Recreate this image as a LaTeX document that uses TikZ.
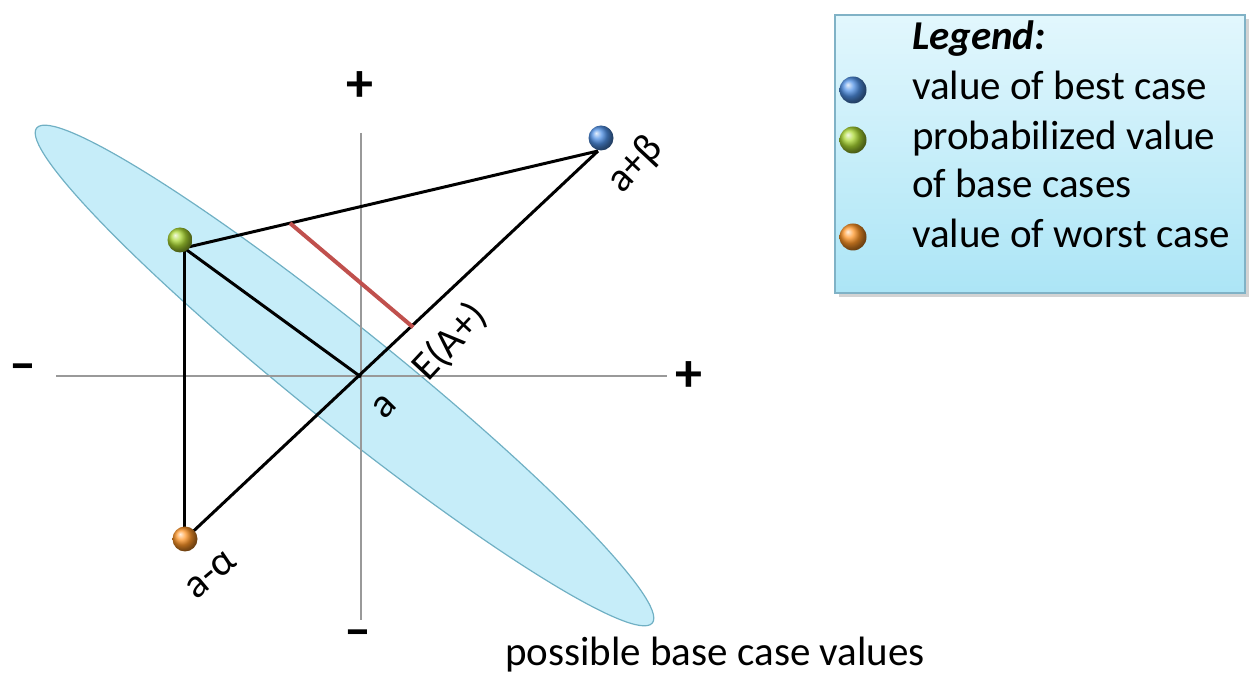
\documentclass[tikz,border=0pt]{standalone}
\usepackage{fontspec}
\setmainfont{Carlito}
\usetikzlibrary{calc, shapes, shadows}
\definecolor{ellfill}{RGB}{198,237,249}
\definecolor{ellline}{RGB}{112,176,196}
\definecolor{legtop}{RGB}{226,247,253}
\definecolor{legbot}{RGB}{172,229,246}
\definecolor{legline}{RGB}{128,178,198}
\definecolor{redline}{RGB}{192,80,77}
\definecolor{bestblue}{RGB}{80,145,230}
\definecolor{basegreen}{RGB}{170,215,50}
\definecolor{worstorange}{RGB}{255,150,40}

\begin{document}
\begin{tikzpicture}[x=0.5pt, y=0.5pt,
    axis/.style={draw=gray!80, line width=1pt},
    edge/.style={draw=black, line width=1.5pt},
    dot/.style={circle, inner sep=0pt, minimum size=12.5pt, shading=ball, ball color=#1},
    legdot/.style={dot=#1, minimum size=13.5pt},
    lbl/.style={font=\fontsize{20.5}{24}\selectfont},
    sign/.style={font=\bfseries\fontsize{27}{30}\selectfont}]
          \useasboundingbox (0,0) rectangle (1254,674);
          % cloud of possible base case values
          \fill[ellfill, draw=ellline, line width=0.6pt, rotate around={-38.8:(344.5,298.5)}]
            (344.5,298.5) ellipse [x radius=395, y radius=48];
          % axes
          \coordinate (xl) at (56,298);
          \coordinate (xr) at (667,298);
          \coordinate (yt) at (361,541);
          \coordinate (yb) at (361,54);
          \draw[axis] (xl) -- (xr);
          \draw[axis] (yt) -- (yb);
          \node[sign] (xminus) at (23,301) {\textendash};
          \node[sign] (xplus) at (689,297) {+};
          \node[sign] (yplus) at (360,587) {+};
          \node[sign] (yminus) at (358,35) {\textendash};
          % corners of the triangle
          \coordinate (O) at (361,297);
          \coordinate (G) at (184,426);
          \coordinate (B) at (598,523);
          \coordinate (W) at (184,134);
          \draw[edge] (G) -- (B);
          \draw[edge] (G) -- (O);
          \draw[edge] (G) -- (W);
          \draw[edge] (W) -- (B);
          \coordinate (r1) at ($(G)!0.256!(B)$);
          \coordinate (r2) at ($(O)!0.22!(B)$);
          \draw[redline, line width=2pt] (r1) -- (r2);
          \node[dot=bestblue] (best) at (601,536) {};
          \node[dot=basegreen] (base) at (180,434) {};
          \node[dot=worstorange] (worst) at (185,135) {};
          \node[lbl, rotate=47] (bestlbl) at (636,509) {a+β};
          \node[lbl, rotate=47] (explbl) at (450,332) {E(A+)};
          \node[lbl, rotate=45] (alab) at (385,267) {a};
          \node[lbl, rotate=40] (worstlbl) at (211,99) {a-α};
          \node[lbl] (cloudlbl) at (715,19) {possible base case values};
          % legend
          \shade[top color=legtop, bottom color=legbot, draw=legline, line width=0.8pt,
            drop shadow={shadow xshift=2pt, shadow yshift=-2pt, opacity=0.35}]
            (835,659) rectangle (1245,381);
          \node[lbl, anchor=base west] (legtitle) at (905,624) {\textbf{\textit{Legend:}}};
          \node[legdot=bestblue] (legbest) at (853,584) {};
          \node[lbl, anchor=base west] (legbesttxt) at (905,574) {value of best case};
          \node[legdot=basegreen] (legbase) at (853,534) {};
          \node[lbl, anchor=base west] (legbasetxt) at (905,524) {probabilized value};
          \node[lbl, anchor=base west] (legbasetxt2) at (905,476) {of base cases};
          \node[legdot=worstorange] (legworst) at (853,437) {};
          \node[lbl, anchor=base west] (legworsttxt) at (905,426) {value of worst case};
\end{tikzpicture}
\end{document}
